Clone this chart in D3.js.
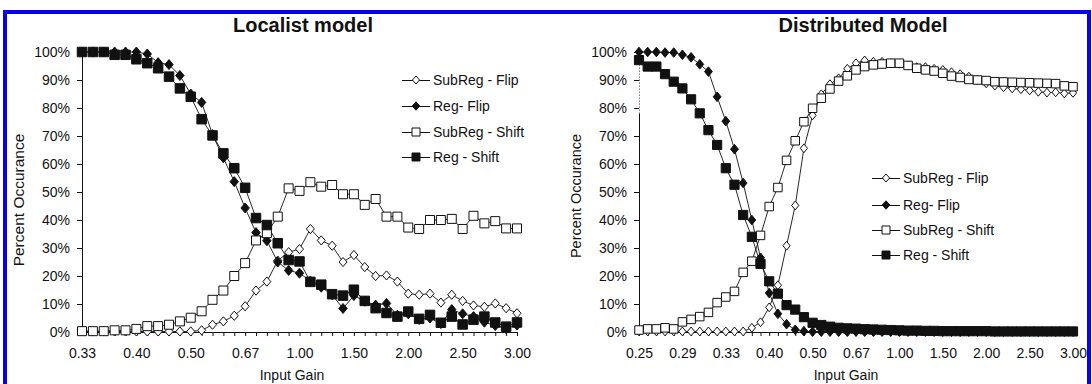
<!DOCTYPE html>
<html><head><meta charset="utf-8">
<script src="https://cdn.jsdelivr.net/npm/d3@7"></script>
<style>
html,body{margin:0;padding:0;background:#fff;}
svg{display:block;}
</style></head><body>
<svg id="chart" width="1092" height="384"></svg>
<script>
// ---------------- DATA ----------------
const localGain = ["0.333","0.345","0.357","0.370","0.385","0.400","0.417","0.435","0.455","0.476",
  "0.500","0.526","0.556","0.588","0.625","0.667","0.714","0.769","0.833","0.909",
  "1.000","1.100","1.200","1.300","1.400","1.500","1.600","1.700","1.800","1.900",
  "2.000","2.100","2.200","2.300","2.400","2.500","2.600","2.700","2.800","2.900","3.000"];
const distGain = ["0.250","0.256","0.263","0.270","0.278","0.286","0.294","0.303","0.313","0.323",
  "0.333","0.345","0.357","0.370","0.385","0.400","0.417","0.435","0.455","0.476",
  "0.500","0.526","0.556","0.588","0.625","0.667","0.714","0.769","0.833","0.909",
  "1.000","1.100","1.200","1.300","1.400","1.500","1.600","1.700","1.800","1.900",
  "2.000","2.100","2.200","2.300","2.400","2.500","2.600","2.700","2.800","2.900","3.000"];

const localTickCats = ["0.333","0.400","0.500","0.667","1.000","1.500","2.000","2.500","3.000"];
const localTickLabels = ["0.33","0.40","0.50","0.67","1.00","1.50","2.00","2.50","3.00"];
const distTickCats = ["0.250","0.286","0.333","0.400","0.500","0.667","1.000","1.500","2.000","2.500","3.000"];
const distTickLabels = ["0.25","0.29","0.33","0.40","0.50","0.67","1.00","1.50","2.00","2.50","3.00"];
const yTickValues = [0,10,20,30,40,50,60,70,80,90,100];

const seriesNames = ["SubReg - Flip","Reg- Flip","SubReg - Shift","Reg - Shift"];

// Localist model
const localSubRegFlip = [0.2,0.2,0.2,0.2,0.2,0.2,0.2,0.2,0.2,0.2,0.2,
  0.6,2.6,3.8,5.8,9.2,14.8,18,25.5,28.5,29.6,
  36.8,32.7,30.8,25,27.5,23.2,20,20.2,18,13.7,
  13.3,13.7,10.5,13.3,11.1,9.5,9,10.2,8.5,6.7];
const localRegFlip = [100,100,100,100,100,100,99.3,96.2,95.5,91.6,85,
  82,70.5,62.2,53.7,44.3,35.5,32.6,25,22,21,
  18.2,16,13.3,8.4,13,11,9.6,10.2,6,6.5,
  4.5,5,3,8,6.5,5.5,3.5,2.3,1.2,2.5];
const localSubRegShift = [0.3,0.3,0.3,0.6,0.6,1.1,2.1,2.1,2.6,3.8,5.1,
  7.4,11.5,14.8,20,24.6,32.7,35.3,41.2,51.3,50.4,
  53.5,51.9,52.5,49.2,49.2,45.4,47.5,41.2,41.2,37.3,
  36.8,40,40,40.4,36.8,41.5,38.8,39.6,37,37];
const localRegShift = [100,100,100,99,99,97.4,96,94.2,91.2,87,84,
  76,70.2,63.8,58.5,51.5,40.7,38.2,31.7,25.7,25.2,
  17.9,16.9,13.5,13,15.1,11.1,8.5,6.8,5.5,7.3,
  4.7,6.1,3.3,5.5,2.7,4.4,5.5,3.4,1.9,3.4];

// Distributed model
const distSubRegFlip = [0.2,0.2,0.2,0.2,0.2,0.2,0.2,0.2,0.2,0.2,0.2,0.2,0.2,
  1.5,3.5,8.8,16.7,30.8,45.2,65.6,77.4,84.9,88.5,
  90.6,94,96,97,96.5,96.5,96,95.8,95.2,94.6,
  94.6,94,93.6,92.8,92.1,91.2,90,88.8,88,87.4,
  87,86.7,86.3,85.8,85.5,85.6,85.2,85.4];
const distRegFlip = [100,100,100,99.8,99.8,99,98.1,95.6,93,84,
  75.3,65.3,53.2,40,26.5,13.9,6.5,2.8,0.8,0.3,
  0.1,0.1,0.1,0.1,0.1,0.1,0.1,0.1,0.1,0.1,
  0.1,0.1,0.1,0.1,0.1,0.1,0.1,0.1,0.1,0.1,
  0.1,0.1,0.1,0.1,0.1,0.1,0.1,0.1,0.1,0.1,0.1];
const distSubRegShift = [0.7,1.1,1.1,1.5,1.1,3.6,4.5,5.5,7,10.5,
  12.5,14.5,21.3,25.3,34.5,44.8,51.6,61.3,68.3,75.1,
  79.9,83.5,86.8,89.6,91.5,93.6,94.8,95.4,95.7,96,
  96,95.2,94.2,93.6,93.2,92.4,91.4,90.9,90.2,90,
  89.8,89.4,89.3,89.2,89.1,89,88.9,88.8,88.7,87.9,87.6];
const distRegShift = [97.1,94.8,94.8,92.1,89.4,87,83.1,78.1,72.1,66.8,
  58.5,52.6,41.8,34,24.3,18.1,13.7,9.6,8,5.3,
  3.3,2.5,1.9,1.5,1.3,1.2,1,0.9,0.8,0.7,
  0.6,0.5,0.5,0.4,0.4,0.3,0.3,0.3,0.3,0.3,
  0.3,0.2,0.2,0.2,0.2,0.2,0.2,0.2,0.2,0.2,0.2];

// ---------------- DRAWING ----------------
const FONT = '"Liberation Sans", Arial, Helvetica, sans-serif';
const svg = d3.select("#chart");

svg.append("rect").attr("x",5).attr("y",12).attr("width",1084).attr("height",420)
  .attr("fill","none").attr("stroke","#0a00f0").attr("stroke-width",4);

function shapePath(shape, s) {
  if (shape === "diamond") {
    const w = s.w, h = s.h;
    return `M0,${-h}L${w},0L0,${h}L${-w},0Z`;
  }
  const a = s.sq / 2;
  return `M${-a},${-a}H${a}V${a}H${-a}Z`;
}

function panel(o) {
  const x = d3.scalePoint().domain(o.cats).range([o.x0, o.x1]).padding(0);
  const y = d3.scaleLinear().domain([0, 100]).range([332, 52]);
  const g = svg.append("g");

  // y axis
  const ya = g.append("g").attr("transform", `translate(${o.x0},0)`)
    .call(d3.axisLeft(y).tickValues(yTickValues).tickFormat(d => d + "%")
      .tickSize(5).tickSizeOuter(0).tickPadding(7));
  ya.selectAll("text").attr("font-size", 14).attr("font-family", FONT).attr("fill", "#111");
  ya.selectAll("line").attr("stroke", "#111");
  ya.select(".domain").attr("stroke", o.dottedTop ? "none" : "#111");
  if (o.dottedTop) {
    g.append("line").attr("x1", o.x0 + 0.5).attr("x2", o.x0 + 0.5)
      .attr("y1", y(0)).attr("y2", y(78)).attr("stroke", "#111");
    g.append("line").attr("x1", o.x0 + 0.5).attr("x2", o.x0 + 0.5)
      .attr("y1", y(78)).attr("y2", y(100)).attr("stroke", "#333")
      .attr("stroke-dasharray", "1,2");
  }

  // x axis
  const xa = g.append("g").attr("transform", "translate(0,332)")
    .call(d3.axisBottom(x).tickSize(4).tickSizeOuter(0).tickPadding(12)
      .tickFormat(d => { const k = o.tickCats.indexOf(d); return k >= 0 ? o.tickLabels[k] : ""; }));
  xa.selectAll("text").attr("font-size", 14).attr("font-family", FONT).attr("fill", "#111");
  xa.selectAll("line").attr("stroke", "#111");
  xa.select(".domain").attr("stroke", "#111");

  // lines
  const line = d3.line().x((d, i) => x(o.cats[i])).y(d => y(d));
  o.series.forEach(s => {
    g.append("path").datum(s.values).attr("d", line)
      .attr("fill", "none").attr("stroke", "#111").attr("stroke-width", 0.9);
  });
  // markers
  o.series.forEach(s => {
    g.append("g").selectAll("path").data(s.values).join("path")
      .attr("transform", (d, i) => `translate(${x(o.cats[i])},${y(d)})`)
      .attr("d", shapePath(s.shape, s.size))
      .attr("fill", s.fill).attr("stroke", "#111").attr("stroke-width", 1);
  });

  // title
  g.append("text").attr("x", o.titleX).attr("y", 32).attr("text-anchor", "middle")
    .attr("font-family", FONT).attr("font-weight", "bold").attr("font-size", 20)
    .attr("fill", "#111").text(o.title);

  // y title
  g.append("text").attr("transform", `translate(${o.yTitleX},${o.yTitleY}) rotate(-90)`)
    .attr("text-anchor", "middle").attr("font-family", FONT).attr("font-size", o.yTitleSize)
    .attr("fill", "#111").text("Percent Occurance");

  // x title
  g.append("text").attr("x", o.xTitleX).attr("y", 380).attr("text-anchor", "middle")
    .attr("font-family", FONT).attr("font-size", 14).attr("fill", "#111").text("Input Gain");

  // legend
  o.series.forEach((s, k) => {
    const ly = o.legendY[k];
    const lg = g.append("g");
    lg.append("line").attr("x1", o.legX0).attr("x2", o.legX0 + 28)
      .attr("y1", ly + 0.5).attr("y2", ly + 0.5).attr("stroke", "#111").attr("stroke-width", 1);
    lg.append("path").attr("transform", `translate(${o.legX0 + 14},${ly})`)
      .attr("d", shapePath(s.shape, s.legSize))
      .attr("fill", s.fill).attr("stroke", "#111").attr("stroke-width", 1);
    lg.append("text").attr("x", o.legX0 + 31).attr("y", ly).attr("dy", "0.36em")
      .attr("font-family", FONT).attr("font-size", 14).attr("fill", "#111").text(seriesNames[k]);
  });
}

panel({
  cats: localGain, tickCats: localTickCats, tickLabels: localTickLabels,
  x0: 82, x1: 517, title: "Localist model", titleX: 303,
  yTitleX: 24, yTitleY: 200, yTitleSize: 15.5, xTitleX: 292,
  legX0: 402, legendY: [80, 106, 132, 157],
  series: [
    { values: localSubRegFlip, shape: "diamond", fill: "#fff", size: {w: 4, h: 4.6}, legSize: {w: 3.6, h: 4} },
    { values: localRegFlip, shape: "diamond", fill: "#111", size: {w: 4.2, h: 5}, legSize: {w: 3.8, h: 4.2} },
    { values: localSubRegShift, shape: "square", fill: "#fff", size: {sq: 9}, legSize: {sq: 8} },
    { values: localRegShift, shape: "square", fill: "#111", size: {sq: 9.5}, legSize: {sq: 8} }
  ]
});

panel({
  cats: distGain, tickCats: distTickCats, tickLabels: distTickLabels,
  x0: 639, x1: 1073, title: "Distributed Model", titleX: 863, dottedTop: true,
  yTitleX: 581, yTitleY: 196, yTitleSize: 14.5, xTitleX: 846,
  legX0: 872, legendY: [178, 205, 230, 255],
  series: [
    { values: distSubRegFlip, shape: "diamond", fill: "#fff", size: {w: 3.6, h: 4.4}, legSize: {w: 3.6, h: 4} },
    { values: distRegFlip, shape: "diamond", fill: "#111", size: {w: 3.9, h: 4.8}, legSize: {w: 3.8, h: 4.2} },
    { values: distSubRegShift, shape: "square", fill: "#fff", size: {sq: 8.5}, legSize: {sq: 8} },
    { values: distRegShift, shape: "square", fill: "#111", size: {sq: 9.2}, legSize: {sq: 8} }
  ]
});
</script>
</body></html>
